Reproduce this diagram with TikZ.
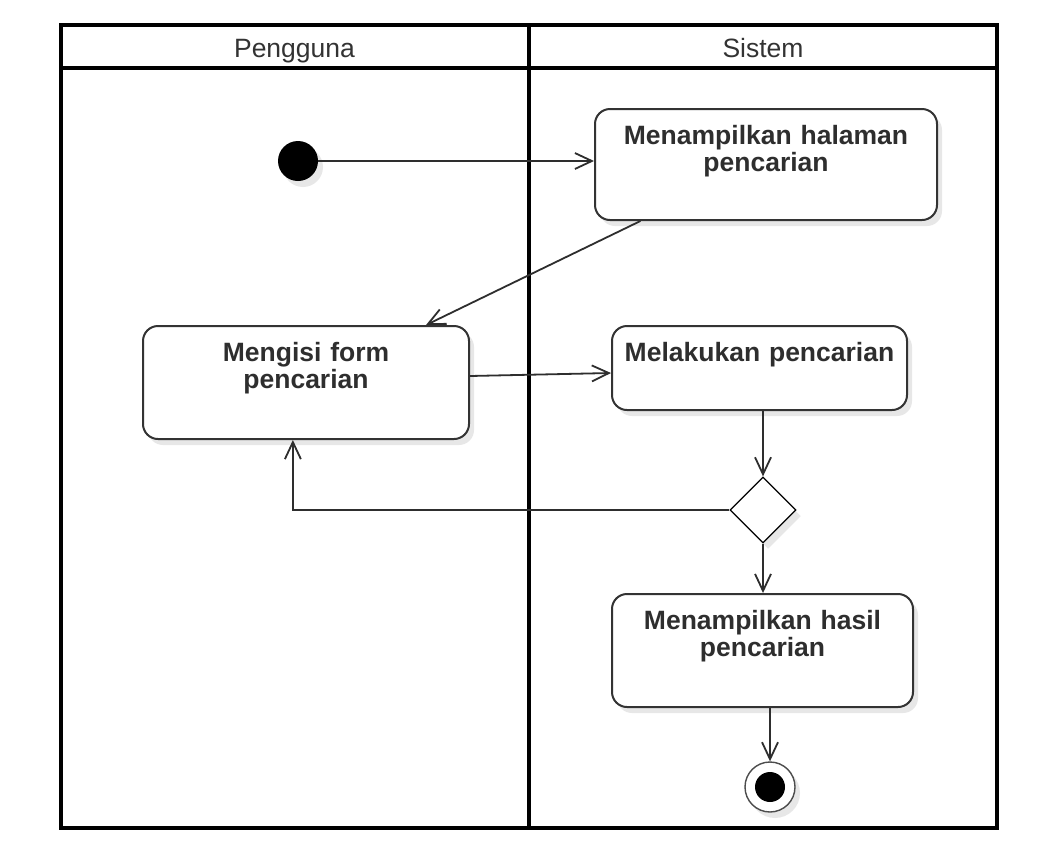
\documentclass[tikz,border=0pt]{standalone}
\usepackage{fontspec}
\setmainfont{Liberation Sans}
\usetikzlibrary{arrows.meta,shapes.geometric,shadows,calc}
\begin{document}
\begin{tikzpicture}[x=1pt,y=-1pt,
  shad/.style={drop shadow={shadow xshift=5pt,shadow yshift=-6pt,fill=black!18,opacity=0.5}},
  act/.style={draw=black!80,line width=2pt,rounded corners=15pt,fill=white,shad,
    font=\fontsize{26.5}{27}\selectfont\bfseries,text=black!82,align=center,
    inner sep=0pt,text height=35pt,anchor=north},
  lanehead/.style={font=\fontsize{26.5}{30}\selectfont,text=black!80,inner sep=0pt,anchor=base},
  flow/.style={draw=black!82,line width=1.8pt,-{Straight Barb[length=17pt,width=16pt]}},
  frame/.style={draw=black,line width=4pt}
]
\useasboundingbox (0,0) rectangle (1043,860);
\fill[white] (0,0) rectangle (1043,860);

% swimlanes
\draw[frame] (61,25) rectangle (997,828);
\draw[frame] (61,68) -- (997,68);
\draw[frame] (528.5,25) -- (528.5,828);
\node[lanehead] (hU) at (294.5,57.5) {Pengguna};
\node[lanehead] (hS) at (763,57.5) {Sistem};

% nodes
\node[circle,fill=black,minimum size=40pt,inner sep=0pt,shad] (start) at (298,161) {};
\node[act,text width=342pt,text depth=76pt] (halaman) at (766,108) {Menampilkan halaman\\pencarian};
\node[act,text width=326pt,text depth=78pt] (mengisi) at (306,325) {Mengisi form\\pencarian};
\node[act,text width=295pt,text depth=49pt] (melakukan) at (759.5,325) {Melakukan pencarian};
\node[diamond,draw=black,line width=1.3pt,fill=white,minimum width=66pt,minimum height=66pt,inner sep=0pt,shad] (dec) at (763,510) {};
\node[act,text width=301pt,text depth=78pt] (hasil) at (762.5,593) {Menampilkan hasil\\pencarian};
\node[circle,draw=black!70,line width=1.4pt,fill=white,minimum size=50pt,inner sep=0pt,shad,
  path picture={\fill[black] (path picture bounding box.center) circle (15pt);}] (end) at (770,787) {};

% connectors
\draw[flow] (start) -- (halaman.west |- start);
\draw[flow] ($(halaman.south west)!0.135!(halaman.south east)$) -- ($(mengisi.north west)!0.866!(mengisi.north east)$);
\draw[flow] ($(mengisi.east)+(0,-6.5)$) -- ($(melakukan.west)+(0,5)$);
\draw[flow] (melakukan.south -| dec.north) -- (dec.north);
\draw[flow] (dec.west) -| ($(mengisi.south west)!0.46!(mengisi.south east)$);
\draw[flow] (dec.south) -- (hasil.north -| dec.south);
\draw[flow] (hasil.south -| end.north) -- (end.north);
\end{tikzpicture}
\end{document}
